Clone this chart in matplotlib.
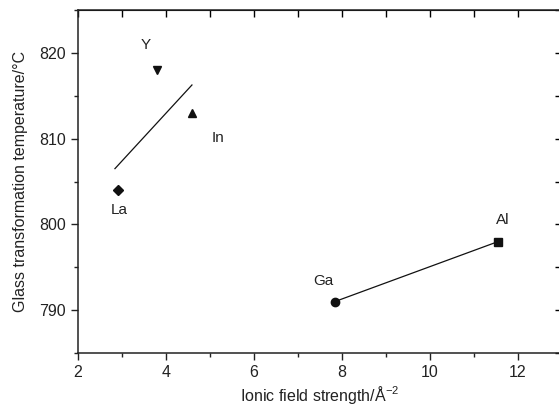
import numpy as np
import matplotlib
matplotlib.use("Agg")
import matplotlib.pyplot as plt

plt.rcParams['font.family'] = ['Liberation Sans', 'DejaVu Sans']
plt.rcParams['mathtext.fontset'] = 'custom'
plt.rcParams['mathtext.rm'] = 'Liberation Sans'
plt.rcParams['mathtext.it'] = 'Liberation Sans'
plt.rcParams['mathtext.default'] = 'regular'

# data
ions = ['La', 'Y', 'In', 'Ga', 'Al']
field_strength = [2.91, 3.80, 4.59, 7.84, 11.55]
tg = [804, 818, 813, 791, 798]
markers = ['D', 'v', '^', 'o', 's']
label_offsets = [(1, -20), (-11, 25), (26, -25), (-12, 21), (5, 22)]

fit_group = ['La', 'Y', 'In']
fit_x_range = [2.84, 4.59]
line_group = ['Ga', 'Al']

fig = plt.figure(figsize=(5.59, 4.12), dpi=100)
ax = fig.add_axes([0.1395, 0.1432, 1.0054 - 0.1395, 0.9757 - 0.1432])

for name, x, y, m, off in zip(ions, field_strength, tg, markers, label_offsets):
    ax.plot(x, y, marker=m, color='#111111', markersize=6 if m != 'D' else 5, linestyle='none')
    ax.annotate(name, (x, y), xytext=off, textcoords='offset pixels',
                ha='center', va='center', fontsize=11, color='#222222')

# linear fit for La, Y, In
fx = [field_strength[ions.index(n)] for n in fit_group]
fy = [tg[ions.index(n)] for n in fit_group]
k, b = np.polyfit(fx, fy, 1)
xs = np.array(fit_x_range)
ax.plot(xs, k * xs + b, color='#111111', lw=0.9)

# Ga - Al line
lx = [field_strength[ions.index(n)] for n in line_group]
ly = [tg[ions.index(n)] for n in line_group]
ax.plot(lx, ly, color='#111111', lw=0.9)

ax.set_xlim(2, 13)
ax.set_ylim(785, 825)
ax.set_xticks([2, 4, 6, 8, 10, 12])
ax.set_xticks(np.arange(3, 13, 2), minor=True)
ax.set_yticks([790, 800, 810, 820])
ax.set_yticks([785, 795, 805, 815, 825], minor=True)
ax.tick_params(which='major', direction='out', length=5, width=1, labelsize=11.5, colors='#222222')
ax.tick_params(which='minor', direction='out', length=3, width=1, colors='#222222')

top = ax.secondary_xaxis('top')
top.set_xticks(np.arange(2, 14, 1))
top.tick_params(direction='in', length=5, width=1, labeltop=False)
right = ax.secondary_yaxis('right')
right.set_yticks(np.arange(785, 826, 5))
right.tick_params(direction='in', length=5, width=1, labelright=False)

for s in ax.spines.values():
    s.set_linewidth(1.1)
    s.set_color('#222222')

ax.set_xlabel('Ionic field strength/Å$^{-2}$', fontsize=11.5, color='#222222', labelpad=3)
ax.set_ylabel('Glass transformation temperature/°C', fontsize=11.5, color='#222222', labelpad=8)

fig.savefig('out.png', dpi=100)
